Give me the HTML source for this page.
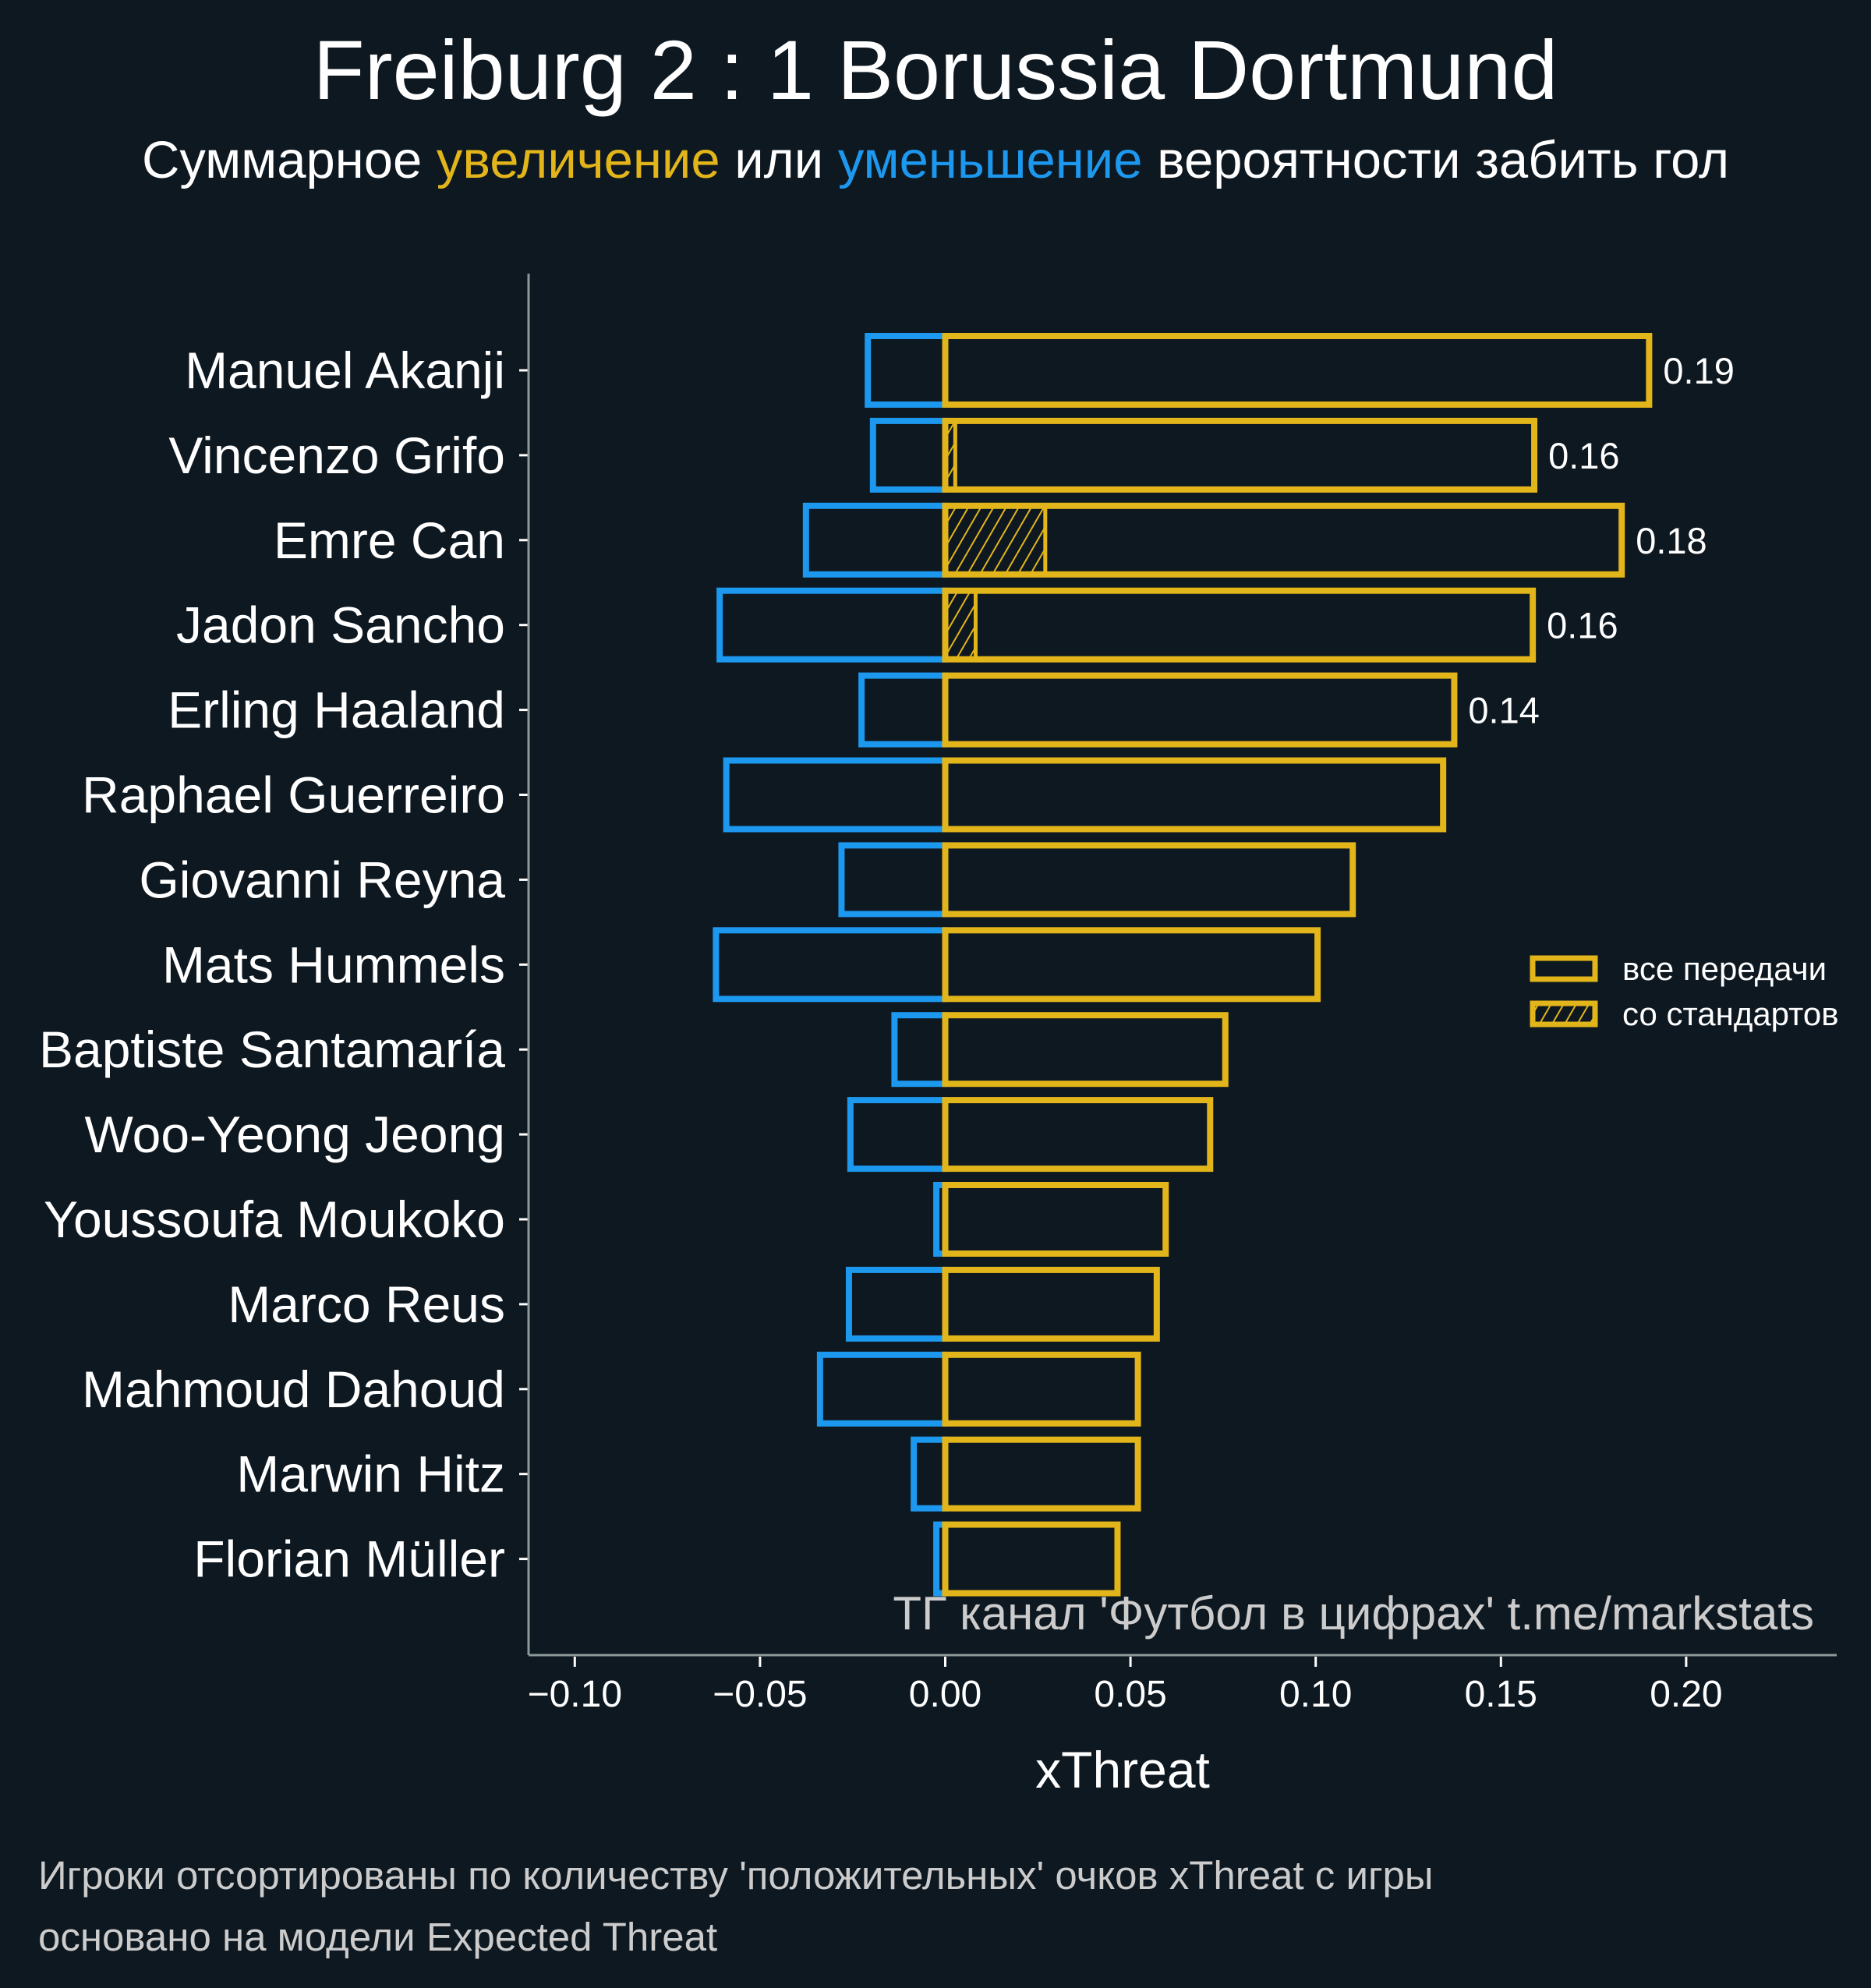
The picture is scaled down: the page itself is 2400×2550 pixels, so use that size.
<!DOCTYPE html>
<html><head><meta charset="utf-8"><style>
html,body{margin:0;padding:0;background:#0e1821;}
svg{display:block;font-family:"Liberation Sans","DejaVu Sans",sans-serif;}
</style></head><body>
<svg id="chart" width="2400" height="2550" viewBox="0 0 2400 2550" xmlns="http://www.w3.org/2000/svg">
<defs>
<pattern id="hatch" width="14" height="14" patternUnits="userSpaceOnUse" patternTransform="rotate(30)">
<rect width="14" height="14" fill="#0e1821"/>
<line x1="0" y1="0" x2="0" y2="14" stroke="#e2b51a" stroke-width="4"/>
</pattern>
</defs>
<rect width="2400" height="2550" fill="#0e1821"/>
<text x="1200" y="127" text-anchor="middle" font-size="108" fill="#ffffff">Freiburg 2 : 1 Borussia Dortmund</text>
<text x="1200" y="228" text-anchor="middle" font-size="67" fill="#ffffff">Суммарное <tspan fill="#e2b51a">увеличение</tspan> или <tspan fill="#1d98ef">уменьшение</tspan> вероятности забить гол</text>
<g id="plot"></g>
<line x1="678" y1="351" x2="678" y2="2123" stroke="#8a9a98" stroke-width="3"/>
<line x1="678" y1="2123" x2="2356" y2="2123" stroke="#8a9a98" stroke-width="3"/>
<text x="2327" y="2090" text-anchor="end" font-size="60" fill="#cccccc">ТГ канал 'Футбол в цифрах'  t.me/markstats</text>
<text x="1440" y="2293" text-anchor="middle" font-size="66" fill="#ffffff">xThreat</text>
<g>
<rect x="1966" y="1229" width="80" height="27" fill="none" stroke="#e2b51a" stroke-width="7"/>
<text x="2081" y="1257" font-size="42" fill="#ffffff">все передачи</text>
<rect x="1966" y="1287" width="80" height="27" fill="url(#hatch)" stroke="#e2b51a" stroke-width="7"/>
<text x="2081" y="1315" font-size="42" fill="#ffffff">со стандартов</text>
</g>
<text x="49" y="2423" font-size="51" fill="#cccccc">Игроки отсортированы по количеству 'положительных' очков xThreat с игры</text>
<text x="49" y="2502" font-size="51" fill="#cccccc">основано на модели Expected Threat</text>
</svg>
<script>
const players = ["Manuel Akanji","Vincenzo Grifo","Emre Can","Jadon Sancho","Erling Haaland","Raphael Guerreiro","Giovanni Reyna","Mats Hummels","Baptiste Santamaría","Woo-Yeong Jeong","Youssoufa Moukoko","Marco Reus","Mahmoud Dahoud","Marwin Hitz","Florian Müller"];
const positiveValues = [0.190,0.159,0.1826,0.1586,0.1374,0.1344,0.110,0.1005,0.0756,0.0715,0.0595,0.0571,0.052,0.052,0.0465];
const negativeValues = [-0.0209,-0.0195,-0.0376,-0.0609,-0.0226,-0.0591,-0.028,-0.0619,-0.0137,-0.0256,-0.0024,-0.026,-0.0338,-0.0085,-0.0024];
const setPieceValues = [0,0.0027,0.027,0.0082,0,0,0,0,0,0,0,0,0,0,0];
const valueLabels = ["0.19","0.16","0.18","0.16","0.14","","","","","","","","","",""];
const xTicks = [-0.10,-0.05,0.00,0.05,0.10,0.15,0.20];
const xTickLabels = ["\u22120.10","\u22120.05","0.00","0.05","0.10","0.15","0.20"];

const NS="http://www.w3.org/2000/svg";
const plot=document.getElementById('plot');
function xs(v){return 1212.5+v*4752;}
function ys(i){return 475+108.9*i;}
function mk(tag,attrs,parent){const e=document.createElementNS(NS,tag);for(const k in attrs)e.setAttribute(k,attrs[k]);(parent||plot).appendChild(e);return e;}
const H=88;
players.forEach((p,i)=>{
  const cy=ys(i);
  const n=mk('rect',{x:xs(negativeValues[i]),y:cy-H/2,width:xs(0)-xs(negativeValues[i]),height:H,fill:'none',stroke:'#1d98ef','stroke-width':8});
  
  
  if(setPieceValues[i]>0){
    const s=mk('rect',{x:xs(0),y:cy-H/2,width:xs(setPieceValues[i])-xs(0),height:H,fill:'url(#hatch)',stroke:'#e2b51a','stroke-width':5});
    
    
  }
  const b=mk('rect',{x:xs(0),y:cy-H/2,width:xs(positiveValues[i])-xs(0),height:H,fill:'none',stroke:'#e2b51a','stroke-width':8});
  
  
  if(valueLabels[i]){
    const t=mk('text',{x:xs(positiveValues[i])+18,y:cy+17,'font-size':47,fill:'#ffffff'});
    t.textContent=valueLabels[i];
    
    
  }
  const tk=mk('line',{x1:666,x2:678,y1:cy,y2:cy,stroke:'#ffffff','stroke-width':3});
  
  
  const l=mk('text',{x:648,y:cy+23,'text-anchor':'end','font-size':66,fill:'#ffffff'});
  l.textContent=p;
  
  
});
xTicks.forEach((v,i)=>{
  const tk=mk('line',{x1:xs(v),x2:xs(v),y1:2125,y2:2138,stroke:'#ffffff','stroke-width':3});
  
  
  const t=mk('text',{x:xs(v),y:2189,'text-anchor':'middle','font-size':48,fill:'#ffffff'});
  t.textContent=xTickLabels[i];
  
  
});
</script>
</body></html>
